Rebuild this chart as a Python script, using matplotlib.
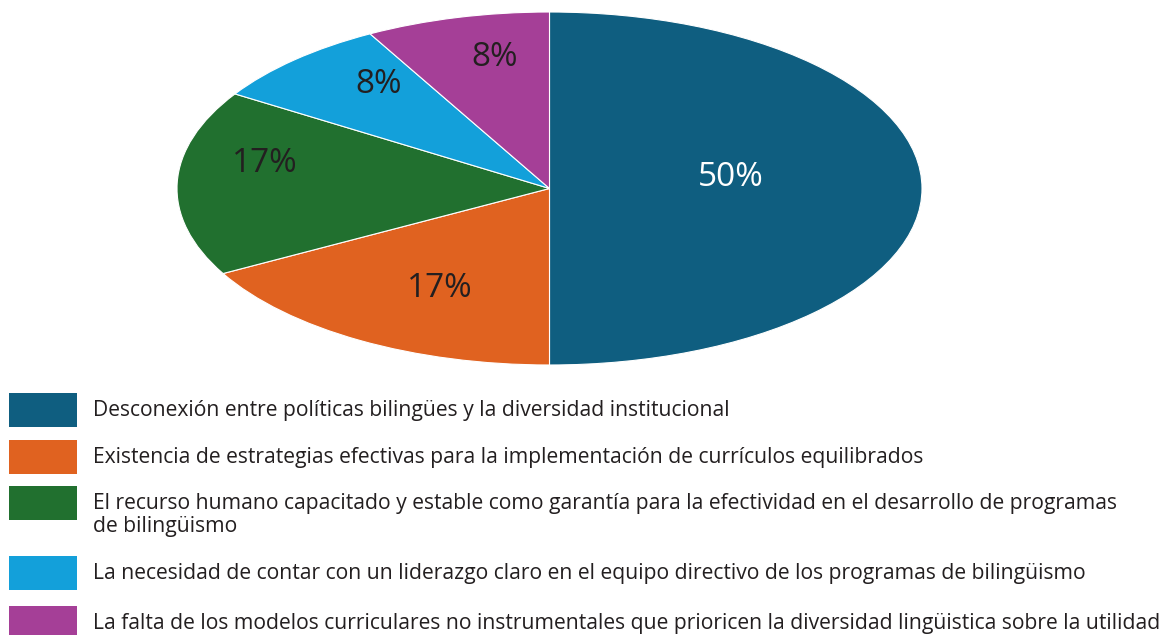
import matplotlib
matplotlib.use("Agg")
import matplotlib.pyplot as plt
from matplotlib.patches import Rectangle

plt.rcParams['font.family'] = ['Open Sans', 'DejaVu Sans']

categories = [
    "Desconexión entre políticas bilingües y la diversidad institucional",
    "Existencia de estrategias efectivas para la implementación de currículos equilibrados",
    "El recurso humano capacitado y estable como garantía para la efectividad en el desarrollo de programas\nde bilingüismo",
    "La necesidad de contar con un liderazgo claro en el equipo directivo de los programas de bilingüismo",
    "La falta de los modelos curriculares no instrumentales que prioricen la diversidad lingüistica sobre la utilidad",
]
values = [50, 17, 17, 8, 8]
pct_labels = ["50%", "17%", "17%", "8%", "8%"]
colors = ["#0F5E80", "#E06220", "#21702F", "#13A0DA", "#A53F97"]
label_colors = ["white", "#231F20", "#231F20", "#231F20", "#231F20"]
label_pos = [(0.487, 0.06), (-0.294, -0.564), (-0.764, 0.144), (-0.46, 0.592), (-0.146, 0.745)]

W, H = 1160, 635
fig = plt.figure(figsize=(W / 100, H / 100), dpi=100)

ax = fig.add_axes([177 / W, 1 - 365 / H, 745 / W, 353 / H])
ax.pie(values, colors=colors, startangle=90, counterclock=False,
       wedgeprops=dict(edgecolor='white', linewidth=0.8))
ax.set_aspect('auto')
ax.set_xlim(-1, 1)
ax.set_ylim(-1, 1)
ax.axis('off')
for (x, y), t, c in zip(label_pos, pct_labels, label_colors):
    ax.text(x, y, t, ha='center', va='center', fontsize=24, color=c)

# legend
box_tops = [393, 440, 486, 556, 606]
for top, lab, col in zip(box_tops, categories, colors):
    fig.patches.append(Rectangle((9 / W, 1 - (top + 34) / H), 68 / W, 34 / H,
                                 transform=fig.transFigure, facecolor=col,
                                 edgecolor='none'))
    for i, line in enumerate(lab.split('\n')):
        base = top + 23 + 23 * i
        fig.text(93 / W, 1 - base / H, line, ha='left', va='baseline',
                 fontsize=15.2, color='#231F20')

fig.savefig("out.png", dpi=100)
